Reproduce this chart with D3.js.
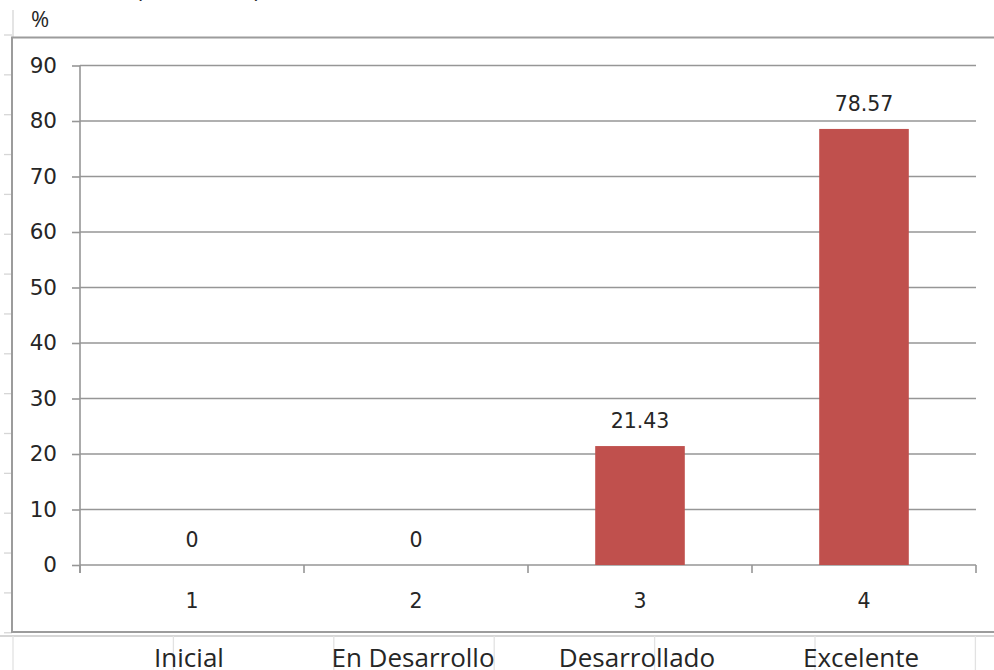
<!DOCTYPE html>
<html>
<head>
<meta charset="utf-8">
<script src="https://cdn.jsdelivr.net/npm/d3@7/dist/d3.min.js"></script>
<style>
  html, body { margin: 0; padding: 0; background: #ffffff; }
  svg { display: block; }
  text { font-family: "DejaVu Sans", Verdana, sans-serif; }
  .sheet { font-family: "Open Sans", "Noto Sans", sans-serif; }
</style>
</head>
<body>
<svg id="chart" width="994" height="670"></svg>
<script>
// ---- data ----
const categories = ["1", "2", "3", "4"];
const levelLabels = ["Inicial", "En Desarrollo", "Desarrollado", "Excelente"];
const values = [0, 0, 21.43, 78.57];
const yTickValues = [0, 10, 20, 30, 40, 50, 60, 70, 80, 90];
const yUnit = "%";

// ---- layout ----
const W = 994, H = 670;
const plot = { left: 80, right: 976, top: 65.5, bottom: 565 };
const svg = d3.select("#chart");

const textColor = "#262626";
const gridColor = "#969696";
const sheetColor = "#d6d6d6";
const barColor = "#C0504D";

// spreadsheet background (row/column lines around the chart object)
const g0 = svg.append("g");
d3.range(0, 16).forEach(k => {
  const yy = 35 + 39.85 * k;
  g0.append("line").attr("x1", 4).attr("x2", 12).attr("y1", yy).attr("y2", yy)
    .attr("stroke", sheetColor).attr("stroke-width", 1.3);
});
g0.append("line").attr("x1", 13).attr("x2", 13).attr("y1", 10).attr("y2", 38)
  .attr("stroke", sheetColor).attr("stroke-width", 1.3);
g0.append("line").attr("x1", 0).attr("x2", W).attr("y1", 636).attr("y2", 636)
  .attr("stroke", sheetColor).attr("stroke-width", 2);
d3.range(0, 7).forEach(k => {
  const xx = 13 + 160.4 * k;
  g0.append("line").attr("x1", xx).attr("x2", xx).attr("y1", 636).attr("y2", H)
    .attr("stroke", "#e2e2e2").attr("stroke-width", 1.3);
});

// cut-off text above (only the bottom of the parentheses is visible)
svg.append("text").attr("class", "sheet").attr("x", 136).attr("y", -2).attr("font-size", 22)
  .attr("fill", textColor).text("(");
svg.append("text").attr("class", "sheet").attr("x", 254).attr("y", -2).attr("font-size", 22)
  .attr("fill", textColor).text(")");

// unit label
svg.append("text").attr("class", "sheet").attr("x", 31).attr("y", 27).attr("font-size", 22)
  .attr("fill", textColor).text(yUnit);

// chart object frame
svg.append("rect").attr("x", 12).attr("y", 37.5).attr("width", W).attr("height", 594.5)
  .attr("fill", "#ffffff").attr("stroke", "#9c9c9c").attr("stroke-width", 2);

// ---- scales ----
const xOuter = d3.scaleBand().domain(categories).range([plot.left, plot.right]).padding(0);
const y = d3.scaleLinear().domain([0, 90]).range([plot.bottom, plot.top]);

// gridlines + y axis
const yAxis = d3.axisLeft(y).tickValues(yTickValues).tickSize(8).tickPadding(15)
  .tickFormat(d3.format("d"));
const gy = svg.append("g").attr("transform", `translate(${plot.left},0)`).call(yAxis);
gy.select(".domain").remove();
gy.selectAll(".tick line").attr("stroke", gridColor).attr("stroke-width", 1.6);
gy.selectAll(".tick text").attr("font-size", 21.5).attr("fill", textColor)
  .attr("font-family", "'DejaVu Sans', Verdana, sans-serif");

svg.append("g").selectAll("line").data(yTickValues).join("line")
  .attr("x1", plot.left).attr("x2", plot.right)
  .attr("y1", d => y(d)).attr("y2", d => y(d))
  .attr("stroke", gridColor).attr("stroke-width", 1.6);

// vertical axis line
svg.append("line").attr("x1", plot.left).attr("x2", plot.left)
  .attr("y1", plot.top).attr("y2", plot.bottom + 8)
  .attr("stroke", gridColor).attr("stroke-width", 1.6);

// x category boundary ticks
const boundaries = categories.map(c => xOuter(c)).concat([xOuter.range()[1]]);
svg.append("g").selectAll("line").data(boundaries).join("line")
  .attr("x1", d => d).attr("x2", d => d)
  .attr("y1", plot.bottom).attr("y2", plot.bottom + 8)
  .attr("stroke", gridColor).attr("stroke-width", 1.6);

// bars
const barFrac = 0.4;
const bw = xOuter.bandwidth() * barFrac;
const bx = c => xOuter(c) + (xOuter.bandwidth() - bw) / 2;
const cx = c => xOuter(c) + xOuter.bandwidth() / 2;

svg.append("g").selectAll("rect").data(categories).join("rect")
  .attr("x", c => bx(c))
  .attr("y", (c, i) => y(values[i]))
  .attr("width", bw)
  .attr("height", (c, i) => y(0) - y(values[i]))
  .attr("fill", barColor);

// value labels
svg.append("g").selectAll("text").data(categories).join("text")
  .attr("x", c => cx(c))
  .attr("y", (c, i) => y(values[i]) - 18)
  .attr("text-anchor", "middle").attr("font-size", 20.5).attr("fill", textColor)
  .text((c, i) => String(values[i]));

// category labels
svg.append("g").selectAll("text").data(categories).join("text")
  .attr("x", c => cx(c)).attr("y", 608)
  .attr("text-anchor", "middle").attr("font-size", 20.5).attr("fill", textColor)
  .text(c => c);

// level labels under the chart
svg.append("g").selectAll("text").data(categories).join("text")
  .attr("class", "sheet")
  .attr("x", c => cx(c) - 3).attr("y", 667)
  .attr("text-anchor", "middle").attr("font-size", 26).attr("fill", textColor)
  .text((c, i) => levelLabels[i]);
</script>
</body>
</html>
